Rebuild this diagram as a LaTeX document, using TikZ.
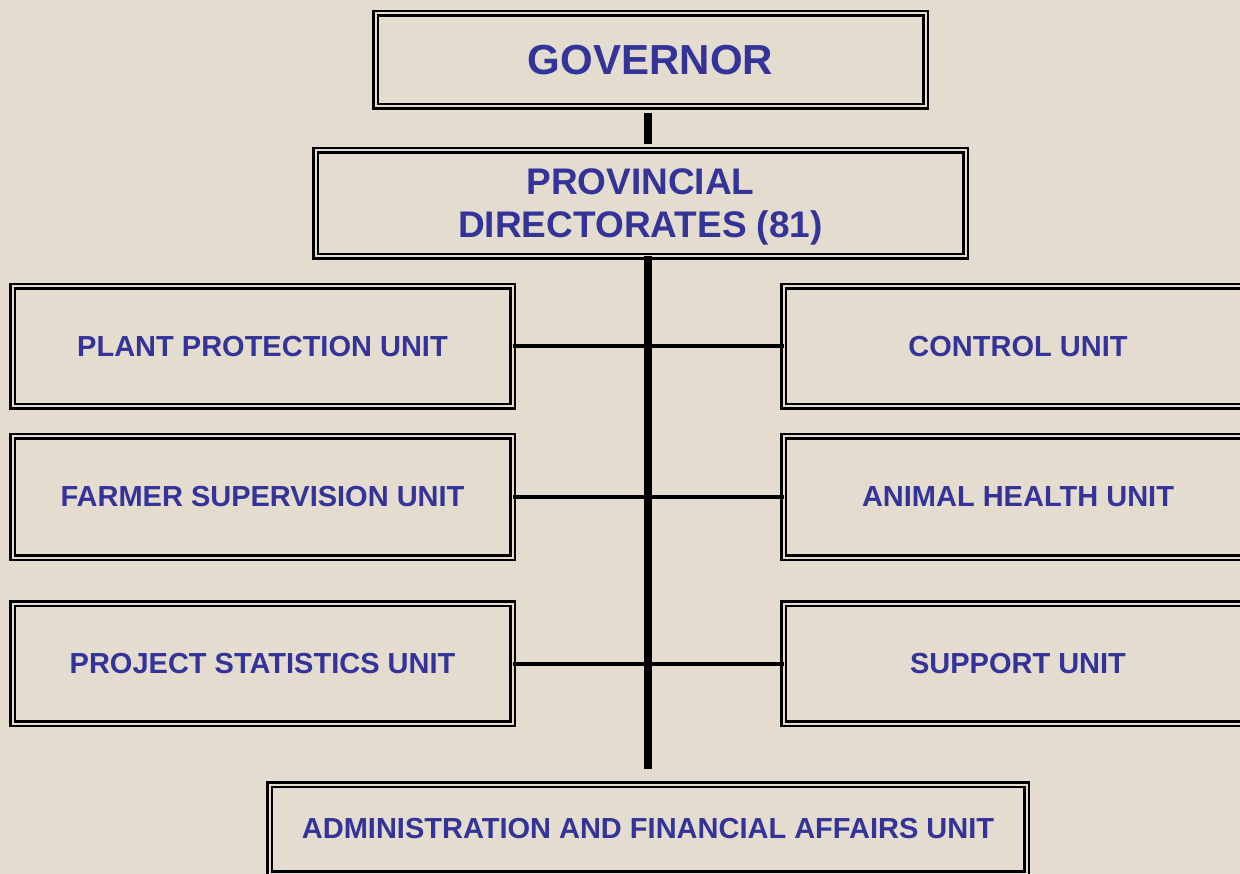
\documentclass[tikz,border=0pt]{standalone}
\usepackage{fontspec}
\setmainfont{Liberation Sans}
\definecolor{bgbeige}{RGB}{228,220,207}
\definecolor{txtblue}{RGB}{51,51,153}
\tikzset{
  unitbox/.style={draw=black, line width=2.5pt, double=bgbeige, double distance=2pt,
    rectangle, inner sep=0pt, outer sep=0pt, text=txtblue,
    font=\bfseries\fontsize{29}{34}\selectfont, align=center},
  trunk/.style={line width=8.5pt, draw=black},
  branch/.style={line width=4pt, draw=black}
}
\begin{document}
\begin{tikzpicture}[x=1pt,y=1pt]
\useasboundingbox (0,0) rectangle (1240,-874);
\fill[bgbeige] (0,0) rectangle (1240,-874);
\begin{scope}
\clip (0,0) rectangle (1240,-874);
% top level
\node[unitbox, minimum width=550, minimum height=93,
      font=\bfseries\fontsize{42}{48}\selectfont] (gov) at (650.5,-60) {\raisebox{-2pt}{GOVERNOR}};
\node[unitbox, minimum width=650, minimum height=106, text depth=0pt,
      font=\bfseries\fontsize{37}{43}\selectfont] (prov) at (640.5,-203.5)
      {PROVINCIAL\\DIRECTORATES (81)};
% left column
\node[unitbox, minimum width=500, minimum height=120] (ppu) at (262.5,-346.5) {PLANT PROTECTION UNIT};
\node[unitbox, minimum width=500, minimum height=121] (fsu) at (262.5,-497) {FARMER SUPERVISION UNIT};
\node[unitbox, minimum width=500, minimum height=120] (psu) at (262.5,-663.5) {PROJECT STATISTICS UNIT};
% right column
\node[unitbox, minimum width=469, minimum height=120] (cu) at (1018,-346.5) {CONTROL UNIT};
\node[unitbox, minimum width=469, minimum height=121] (ahu) at (1018,-497) {ANIMAL HEALTH UNIT};
\node[unitbox, minimum width=469, minimum height=120] (su) at (1018,-663.5) {SUPPORT UNIT};
% bottom
\node[unitbox, minimum width=757, minimum height=89] (afu) at (648,-829) {ADMINISTRATION AND FINANCIAL AFFAIRS UNIT};
\coordinate (trunkend) at (648,-769);
% connectors
\draw[trunk, shorten <=6.5pt, shorten >=6.5pt] (gov.south -| trunkend) -- (prov.north -| trunkend);
\draw[trunk] (prov.south -| trunkend) -- (trunkend);
\draw[branch] (ppu.east) -- (cu.west);
\draw[branch] (fsu.east) -- (ahu.west);
\draw[branch] (psu.east) -- (su.west);
\end{scope}
\end{tikzpicture}
\end{document}
